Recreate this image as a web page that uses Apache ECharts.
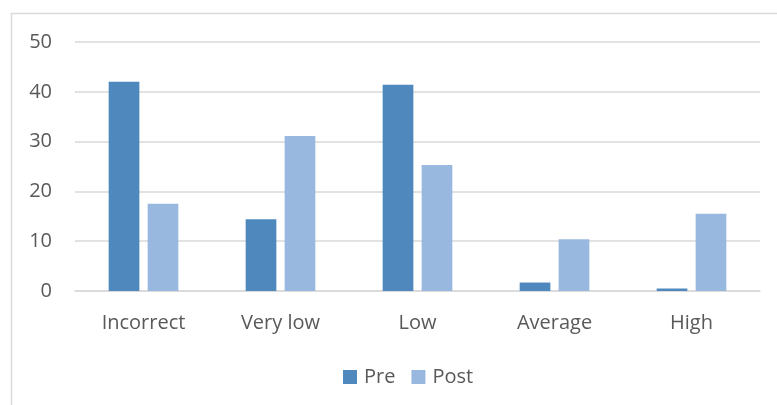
<!DOCTYPE html>
<html>
<head>
<meta charset="utf-8">
<script src="https://cdn.jsdelivr.net/npm/echarts@6/dist/echarts.min.js"></script>
<style>
  html, body { margin: 0; padding: 0; background: #fff; }
  #chart { width: 777px; height: 405px; }
</style>
</head>
<body>
<div id="chart"></div>
<script>
// Response levels, before and after
const categories = ['Incorrect', 'Very low', 'Low', 'Average', 'High'];
const preValues = [42.0, 14.4, 41.4, 1.7, 0.5];
const postValues = [17.5, 31.1, 25.3, 10.4, 15.5];
const yTicks = [0, 10, 20, 30, 40, 50];

const FONT = '"Open Sans", sans-serif';
const TEXT = '#595959';
const GRID = '#D9D9D9';

const chart = echarts.init(document.getElementById('chart'), null, { renderer: 'canvas' });
chart.setOption({
  animation: false,
  backgroundColor: '#ffffff',
  graphic: [{
    type: 'rect',
    shape: { x: 11.5, y: 13.5, width: 800, height: 420 },
    style: { fill: 'none', stroke: GRID, lineWidth: 1.5 },
    silent: true
  }],
  grid: { left: 75, right: 17, top: 42, bottom: 114, containLabel: false },
  legend: {
    data: ['Pre', 'Post'],
    left: 343,
    top: 367,
    padding: 0,
    itemWidth: 14,
    itemHeight: 14,
    itemGap: 16,
    icon: 'rect',
    textStyle: { fontFamily: FONT, fontSize: 20, color: TEXT, padding: [0, 0, 0, 2] }
  },
  xAxis: {
    type: 'category',
    data: categories,
    axisLine: { show: true, lineStyle: { color: GRID, width: 1.5 } },
    axisTick: { show: false },
    axisLabel: { fontFamily: FONT, fontSize: 20, color: TEXT, margin: 22 }
  },
  yAxis: {
    type: 'value',
    min: yTicks[0],
    max: yTicks[yTicks.length - 1],
    interval: 10,
    axisLine: { show: false },
    axisTick: { show: false },
    axisLabel: { fontFamily: FONT, fontSize: 20, color: TEXT, margin: 23 },
    splitLine: { lineStyle: { color: GRID, width: 1.5 } }
  },
  series: [
    {
      name: 'Pre',
      type: 'bar',
      data: preValues,
      barWidth: '22.4%',
      barGap: '27%',
      itemStyle: { color: '#4F88BD' }
    },
    {
      name: 'Post',
      type: 'bar',
      data: postValues,
      barWidth: '22.4%',
      barGap: '27%',
      itemStyle: { color: '#98B8DF' }
    }
  ]
});
</script>
</body>
</html>
